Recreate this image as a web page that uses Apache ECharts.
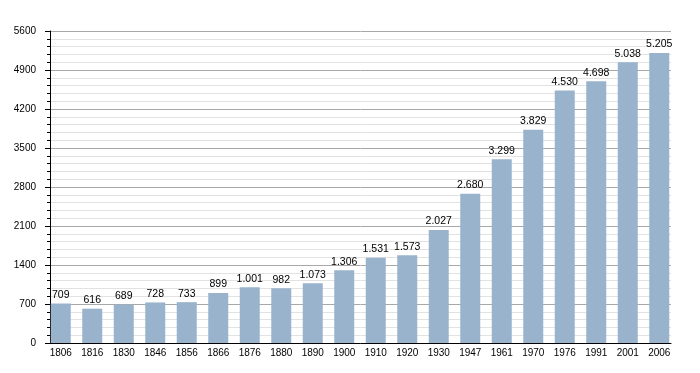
<!DOCTYPE html>
<html><head><meta charset="utf-8">
<script src="https://cdn.jsdelivr.net/npm/echarts@6/dist/echarts.min.js"></script>
<style>html,body{margin:0;padding:0;background:#fff}#c{width:700px;height:373px}</style>
</head><body><div id="c"></div>
<script>
const years = ['1806','1816','1830','1846','1856','1866','1876','1880','1890','1900','1910','1920','1930','1947','1961','1970','1976','1991','2001','2006'];
const population = [709,616,689,728,733,899,1001,982,1073,1306,1531,1573,2027,2680,3299,3829,4530,4698,5038,5205];
const yMin = 0, yMax = 5600, yStep = 700;

function fmt(v){ return String(v).replace(/\B(?=(\d{3})+(?!\d))/g,'.'); }
const FONT = 'Liberation Sans, Arial, sans-serif';

const chart = echarts.init(document.getElementById('c'));
chart.setOption({
  animation:false,
  grid:[
    {left:50,right:29,top:31,bottom:30},
    {left:45,right:25,top:31,bottom:30}
  ],
  xAxis:[
    {type:'category',gridIndex:0,data:years,
      axisLine:{lineStyle:{color:'#000',width:1}},
      axisTick:{show:false},axisLabel:{show:false}},
    {type:'category',gridIndex:1,data:years,
      axisLine:{show:false},axisTick:{show:false},
      axisLabel:{color:'#000',fontFamily:FONT,fontSize:10,margin:5,interval:0}}
  ],
  yAxis:[
    {type:'value',gridIndex:0,min:yMin,max:yMax,interval:yStep,
      axisLine:{show:true,lineStyle:{color:'#000',width:1}},
      axisTick:{show:true,length:5,lineStyle:{color:'#000'}},
      minorTick:{show:true,splitNumber:5,length:3,lineStyle:{color:'#000'}},
      splitLine:{lineStyle:{color:'#a8a8a8',width:1}},
      minorSplitLine:{show:true,lineStyle:{color:'#e2e2e2',width:1}},
      axisLabel:{color:'#000',fontFamily:FONT,fontSize:10,margin:14,formatter:v=>String(v)}},
    {type:'value',gridIndex:1,min:yMin,max:yMax,interval:yStep,show:false}
  ],
  series:[{type:'bar',xAxisIndex:1,yAxisIndex:1,data:population,barWidth:20,
    itemStyle:{color:'#9ab3cc'},
    label:{show:true,position:'top',distance:3,color:'#000',fontFamily:FONT,fontSize:10.5,
      formatter:p=>fmt(p.value)}}]
});
</script></body></html>
